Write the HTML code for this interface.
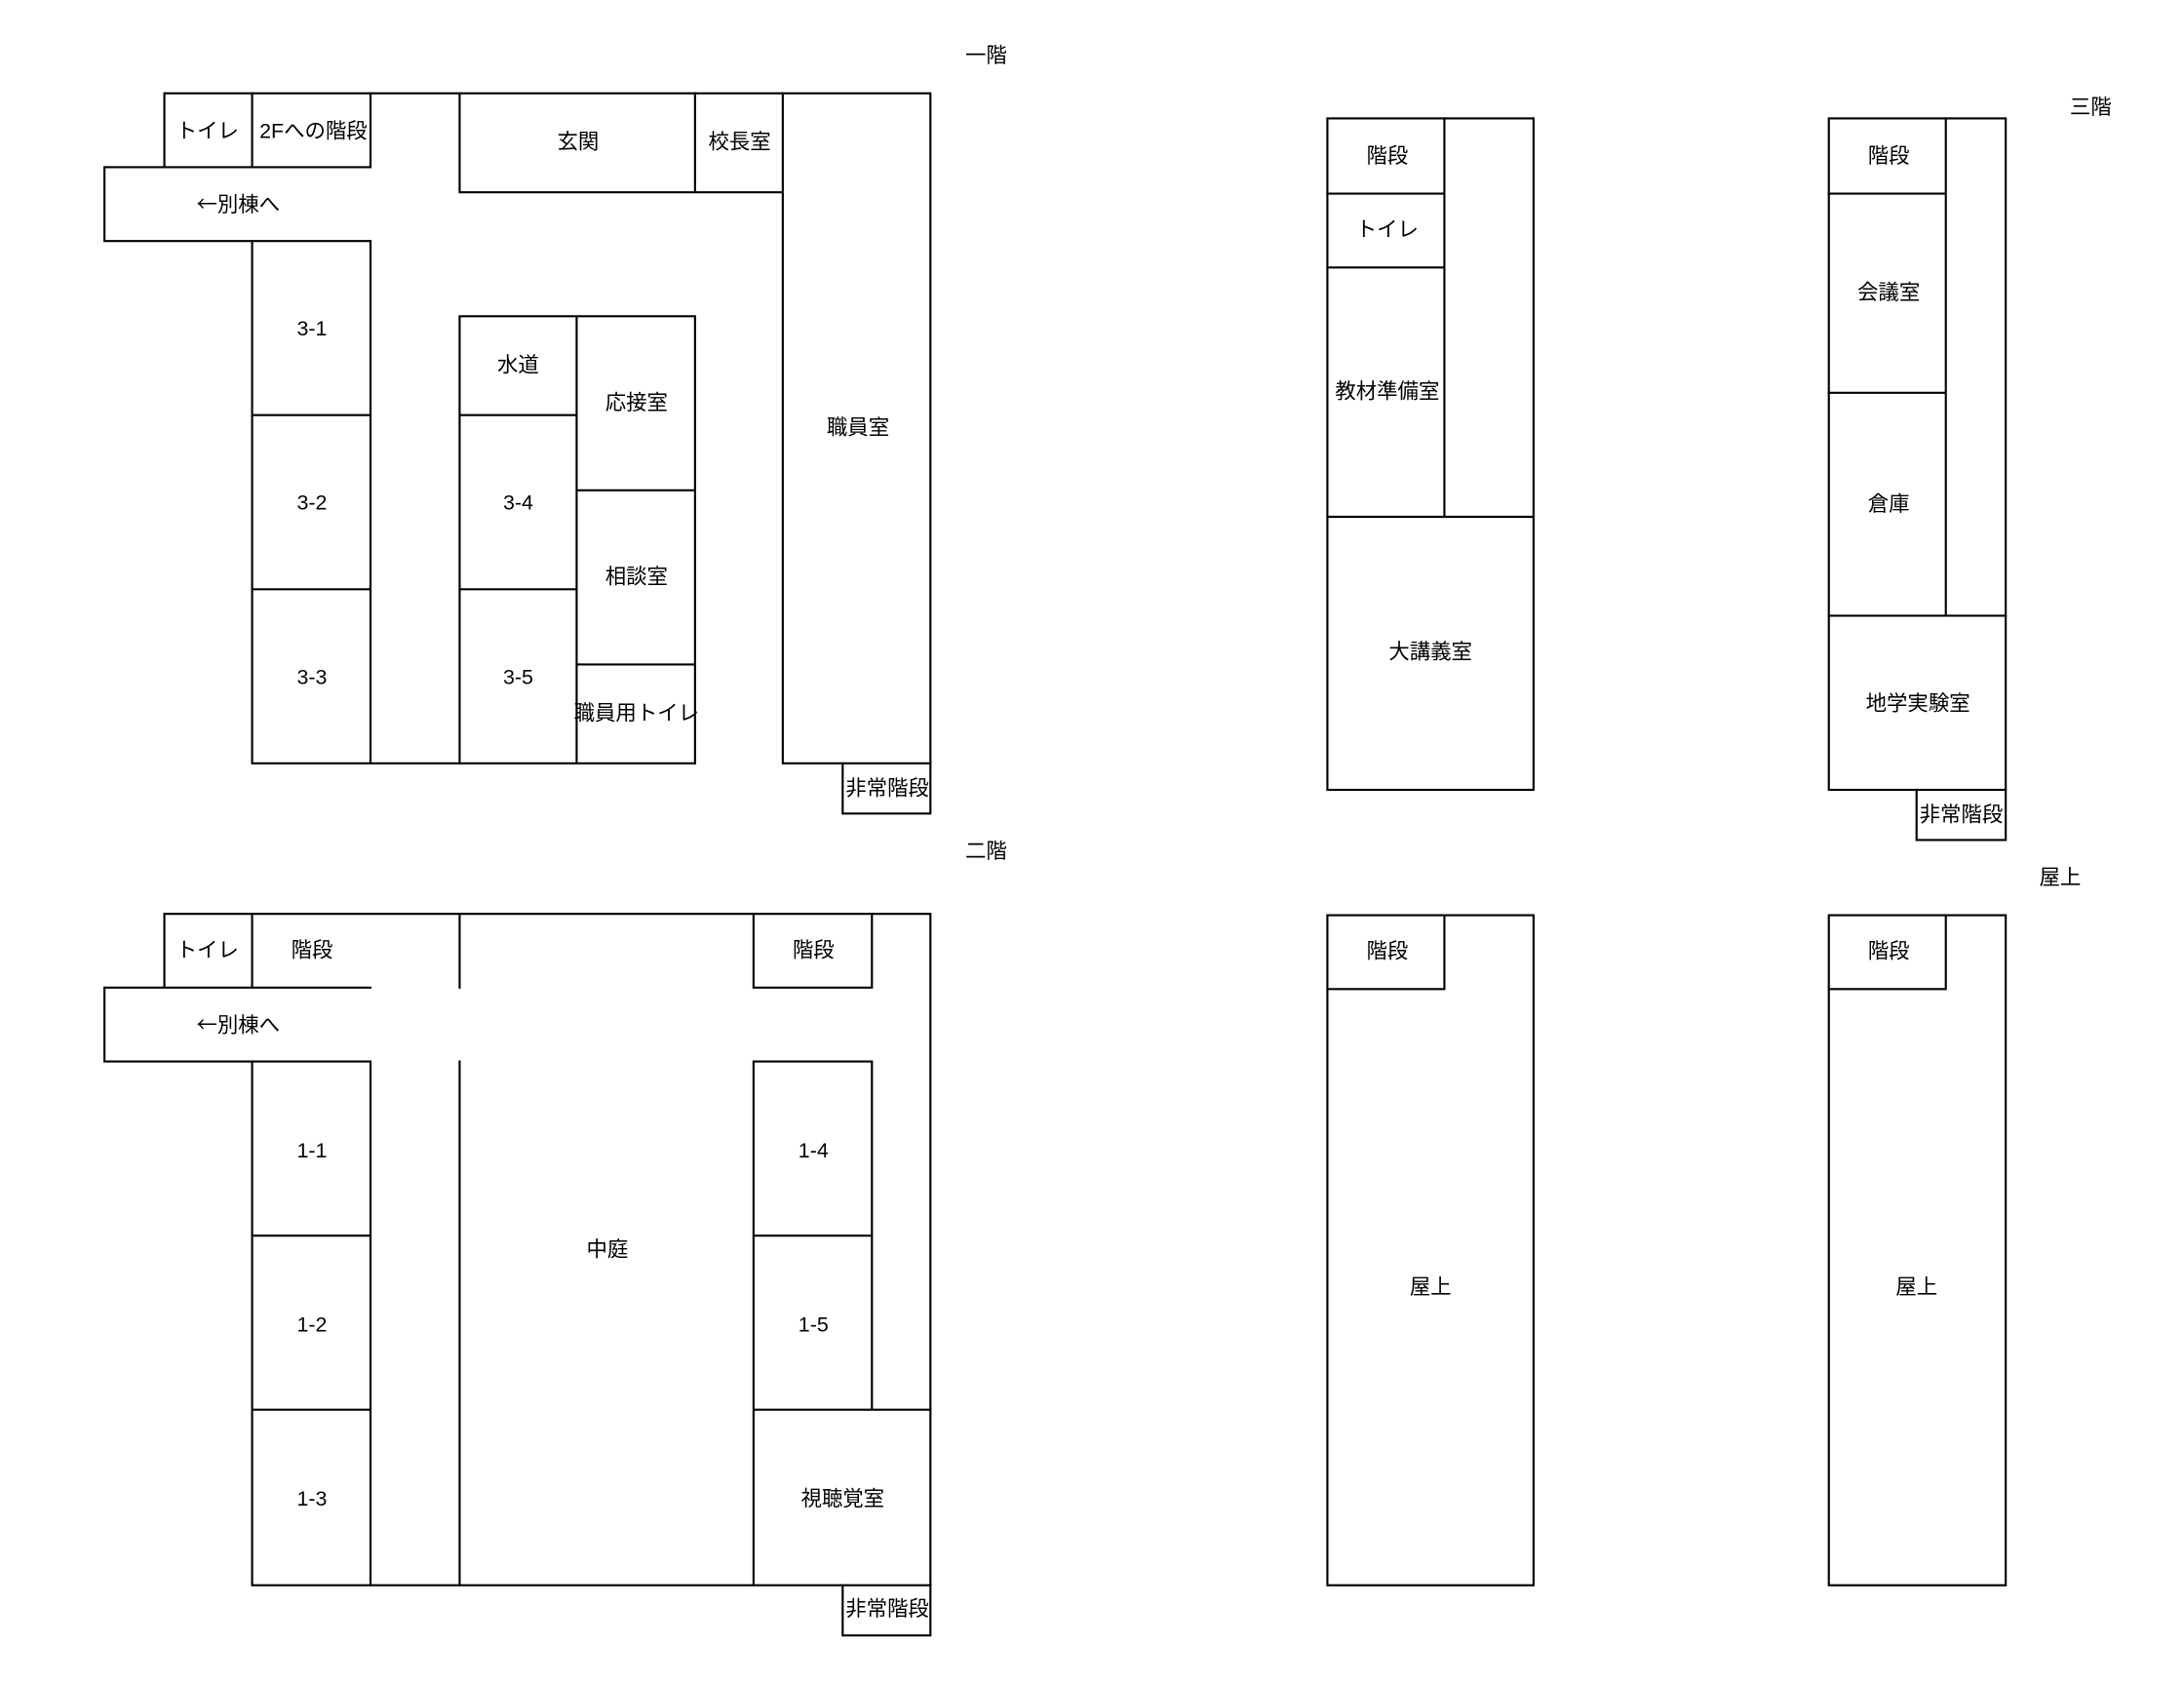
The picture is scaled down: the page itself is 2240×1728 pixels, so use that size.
<!DOCTYPE html>
<html><head><meta charset="utf-8"><style>
html,body{margin:0;padding:0;background:#fff;width:2240px;height:1728px;overflow:hidden}
svg{display:block}
text{font-family:"Liberation Sans","Noto Sans CJK JP",sans-serif;font-size:15px;fill:#000;text-anchor:middle;dominant-baseline:central}
text.cjk{font-family:"Noto Sans CJK JP",sans-serif}
</style></head><body>
<svg width="2240" height="1728" viewBox="0 0 1568 1209.6" xmlns="http://www.w3.org/2000/svg">
<g fill="none" stroke="#000" stroke-width="1.5" stroke-linecap="square">
<path d="M118 67H668V548"/>
<path d="M118 67V120H266M181 67V120M266 67V120"/>
<path d="M75 120H118M75 120V173H266"/>
<path d="M181 173V548H499M181 298H266M181 423H266M266 173V548"/>
<path d="M330 67V138H562M499 67V138M562 67V548H668"/>
<path d="M330 227H499V548M330 227V548M414 227V548M330 298H414M330 423H414M414 352H499M414 477H499"/>
<path d="M605 548V584H668V548"/>
<path d="M118 656H668V1138H181V762"/>
<path d="M118 656V709M181 656V709M75 709H266M75 709V762H266V1138"/>
<path d="M181 887H266M181 1012H266"/>
<path d="M330 656V709M330 762V1138"/>
<path d="M541 656V709H626V656M541 762H626V1012M541 762V1138M541 887H626M541 1012H668"/>
<path d="M605 1138V1174H668V1138"/>
<rect x="953" y="85" width="148" height="482"/>
<path d="M1037 85V371M953 139H1037M953 192H1037M953 371H1101"/>
<rect x="1313" y="85" width="127" height="482"/>
<path d="M1397 85V442M1313 139H1397M1313 282H1397M1313 442H1440"/>
<path d="M1376 567V603H1440V567"/>
<rect x="953" y="657" width="148" height="481"/>
<path d="M953 710H1037V657"/>
<rect x="1313" y="657" width="127" height="481"/>
<path d="M1313 710H1397V657"/>
</g>
<g>
<text x="708" y="40">一階</text>
<text x="149" y="94">トイレ</text>
<text x="225" y="94">2Fへの階段</text>
<text x="415" y="102">玄関</text>
<text x="531" y="102">校長室</text>
<text class="cjk" x="171" y="146">←別棟へ</text>
<text x="224" y="236">3-1</text>
<text x="224" y="361">3-2</text>
<text x="224" y="486">3-3</text>
<text x="372" y="262">水道</text>
<text x="457" y="289">応接室</text>
<text x="372" y="361">3-4</text>
<text x="457" y="414">相談室</text>
<text x="372" y="486">3-5</text>
<text x="457" y="512">職員用トイレ</text>
<text x="616" y="307">職員室</text>
<text x="637" y="566">非常階段</text>

<text x="708" y="611">二階</text>
<text x="149" y="682">トイレ</text>
<text x="224" y="682">階段</text>
<text x="584" y="682">階段</text>
<text class="cjk" x="171" y="735">←別棟へ</text>
<text x="224" y="826">1-1</text>
<text x="224" y="951">1-2</text>
<text x="224" y="1076">1-3</text>
<text x="584" y="826">1-4</text>
<text x="584" y="951">1-5</text>
<text x="436" y="897">中庭</text>
<text x="605" y="1076">視聴覚室</text>
<text x="637" y="1155">非常階段</text>

<text x="1501" y="77">三階</text>
<text x="996" y="112">階段</text>
<text x="996" y="165">トイレ</text>
<text x="996" y="281">教材準備室</text>
<text x="1027" y="468">大講義室</text>
<text x="1356" y="112">階段</text>
<text x="1356" y="210">会議室</text>
<text x="1356" y="362">倉庫</text>
<text x="1377" y="505">地学実験室</text>
<text x="1408" y="585">非常階段</text>

<text x="1479" y="630">屋上</text>
<text x="996" y="683">階段</text>
<text x="1356" y="683">階段</text>
<text x="1027" y="924">屋上</text>
<text x="1376" y="924">屋上</text>
</g>
</svg>
</body></html>
